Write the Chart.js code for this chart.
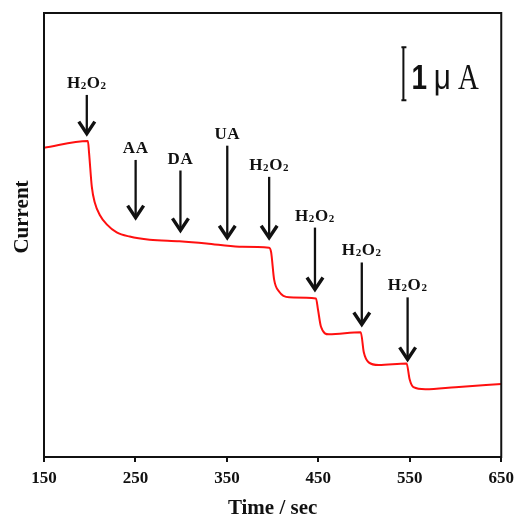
<!DOCTYPE html>
<html>
<head>
<meta charset="utf-8">
<script src="https://cdn.jsdelivr.net/npm/chart.js@4.4.1/dist/chart.umd.min.js"></script>
<style>
  html, body { margin: 0; padding: 0; background: #fff; }
  #wrap { width: 520px; height: 519px; }
</style>
</head>
<body>
<div id="wrap"><canvas id="amp"></canvas></div>
<script>
// amperometric response (time in sec, current in uA, arbitrary offset)
const times = [150, 198, 199.3, 202.3, 205.6, 211, 218.6, 229.5, 243.7, 265.5, 298, 327.6, 363.5, 396.2, 398.4, 401.6, 407, 418, 447.4, 449.6, 452.8, 461.5, 496.4, 499.7, 505, 516, 546.5, 549.8, 554, 567, 600, 650];
const currents = [5.85, 5.98, 5.75, 5.11, 4.81, 4.58, 4.40, 4.25, 4.17, 4.11, 4.08, 4.04, 3.98, 3.96, 3.87, 3.36, 3.13, 3.02, 3.00, 2.79, 2.47, 2.32, 2.36, 1.98, 1.79, 1.74, 1.77, 1.47, 1.32, 1.28, 1.32, 1.38];

// injection markers
const injectLabels = ['H2O2', 'AA', 'DA', 'UA', 'H2O2', 'H2O2', 'H2O2', 'H2O2'];
const injectTimes = [196.8, 250.2, 299.2, 350.4, 396.2, 446.3, 497.5, 547.6];
const arrowTail = [6.85, 5.62, 5.42, 5.89, 5.30, 4.34, 3.68, 3.02];
const arrowTip = [6.08, 4.49, 4.25, 4.11, 4.11, 3.13, 2.47, 1.81];

const xTicks = [150, 250, 350, 450, 550, 650];
const scaleBar = { t: 543, from: 6.75, to: 7.75 };

const SERIF = '"Liberation Serif", "Times New Roman", serif';
const SANS = '"Liberation Sans", Arial, sans-serif';

function drawLabel(ctx, text, cx, baseline) {
  // H2O2 with subscript digits, others plain
  const parts = [];
  for (const ch of text) {
    if (/[0-9]/.test(ch)) parts.push({ ch, font: 'bold 11px ' + SERIF, dy: 1 });
    else parts.push({ ch, font: 'bold 17px ' + SERIF, dy: 0 });
  }
  let w = 0;
  parts.forEach(p => { ctx.font = p.font; p.w = ctx.measureText(p.ch).width + 0.6; w += p.w; });
  let x = cx - w / 2;
  ctx.textAlign = 'left';
  ctx.textBaseline = 'alphabetic';
  parts.forEach(p => { ctx.font = p.font; ctx.fillText(p.ch, x, baseline + p.dy); x += p.w; });
}

const decor = {
  id: 'decor',
  afterDraw(chart) {
    const { ctx, chartArea: a, scales: { x, y } } = chart;
    ctx.save();
    ctx.strokeStyle = '#111';
    ctx.fillStyle = '#111';
    ctx.lineWidth = 2;
    ctx.strokeRect(a.left, a.top, a.right - a.left, a.bottom - a.top);

    // arrows
    injectTimes.forEach((t, i) => {
      const px = x.getPixelForValue(t);
      const y0 = y.getPixelForValue(arrowTail[i]);
      const y1 = y.getPixelForValue(arrowTip[i]);
      ctx.lineWidth = 2.3;
      ctx.beginPath(); ctx.moveTo(px, y0); ctx.lineTo(px, y1 - 3); ctx.stroke();
      ctx.lineWidth = 3.4;
      ctx.lineJoin = 'miter';
      ctx.beginPath();
      ctx.moveTo(px - 8, y1 - 14); ctx.lineTo(px, y1 - 2); ctx.lineTo(px + 8, y1 - 14);
      ctx.stroke();
      drawLabel(ctx, injectLabels[i], px, y0 - 7);
    });

    // scale bar 1 uA
    const bx = x.getPixelForValue(scaleBar.t);
    const bt = y.getPixelForValue(scaleBar.to);
    const bb = y.getPixelForValue(scaleBar.from);
    ctx.lineWidth = 2;
    ctx.beginPath();
    ctx.moveTo(bx, bt); ctx.lineTo(bx, bb);
    ctx.moveTo(bx - 2, bt); ctx.lineTo(bx + 3, bt);
    ctx.moveTo(bx - 2, bb); ctx.lineTo(bx + 3, bb);
    ctx.stroke();
    ctx.textAlign = 'center';
    ctx.textBaseline = 'alphabetic';
    const glyphs = [
      { c: '1', font: 'bold 35px ' + SANS, dx: 16, sx: 0.8 },
      { c: 'μ', font: '35px ' + SANS, dx: 39, sx: 0.85 },
      { c: 'A', font: '36px ' + SERIF, dx: 65, sx: 0.8 }
    ];
    glyphs.forEach(g => {
      ctx.save();
      ctx.font = g.font;
      ctx.translate(bx + g.dx, bb - 11);
      ctx.scale(g.sx, 1);
      ctx.fillText(g.c, 0, 0);
      ctx.restore();
    });

    // axis titles
    ctx.font = 'bold 21px ' + SERIF;
    ctx.textAlign = 'center';
    ctx.textBaseline = 'middle';
    ctx.fillText('Time / sec', (a.left + a.right) / 2, 509);
    ctx.save();
    ctx.translate(23, 217);
    ctx.rotate(-Math.PI / 2);
    ctx.fillText('Current', 0, 0);
    ctx.restore();
    ctx.restore();
  }
};

new Chart(document.getElementById('amp'), {
  type: 'scatter',
  data: {
    datasets: [{
      data: times.map((t, i) => ({ x: t, y: currents[i] })),
      showLine: true,
      borderColor: '#ff1010',
      borderWidth: 2,
      pointRadius: 0,
      cubicInterpolationMode: 'monotone',
      fill: false
    }]
  },
  options: {
    responsive: true,
    maintainAspectRatio: false,
    animation: false,
    layout: { padding: { left: 44, right: 17, top: 13, bottom: 0 } },
    plugins: { legend: { display: false }, tooltip: { enabled: false } },
    scales: {
      x: {
        type: 'linear',
        min: 150, max: 650,
        afterBuildTicks: s => { s.ticks = xTicks.map(v => ({ value: v })); },
        afterFit: s => { s.height = 62; },
        border: { display: true, color: '#111', width: 2 },
        grid: { drawOnChartArea: false, drawTicks: true, tickLength: 5, color: '#111', lineWidth: 2 },
        ticks: { color: '#111', padding: 6, maxRotation: 0, font: { family: SERIF, size: 17, weight: 'bold' } }
      },
      y: {
        display: false,
        min: 0, max: 8.4
      }
    }
  },
  plugins: [decor]
});
</script>
</body>
</html>
